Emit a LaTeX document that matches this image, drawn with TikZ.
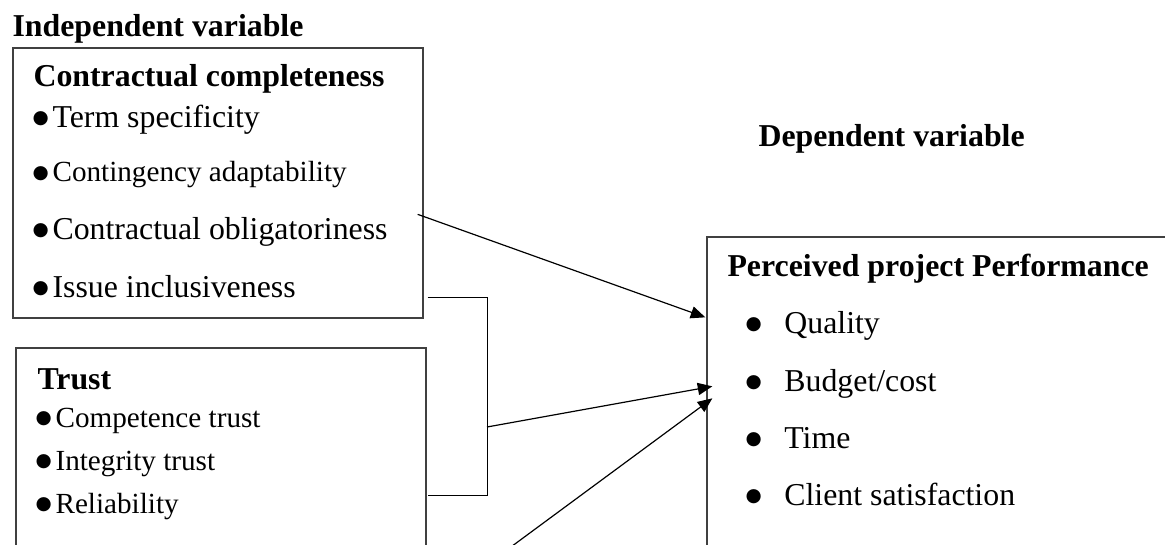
\documentclass[tikz,border=0pt]{standalone}
\usepackage{fontspec}
\setmainfont{Liberation Serif}
\newfontfamily\dotfont{DejaVu Sans}
\usetikzlibrary{calc,fit,arrows.meta}

% bullet of a list: #1 is the room it takes
\newcommand{\bul}[1]{\makebox[#1][l]{\makebox[7.7pt][c]{\dotfont\fontsize{7}{7}\selectfont\raisebox{1.5pt}{●}}}}

\tikzset{
  box/.style={draw=black!75, line width=0.5pt, inner sep=0pt},
  head/.style={anchor=base west, inner sep=0pt, font=\bfseries\fontsize{12}{14}\selectfont},
  item/.style={anchor=base west, inner sep=0pt},
  wire/.style={line width=0.45pt},
  link/.style={wire, -{Triangle[length=5.5pt,width=4.6pt]}},
}

\begin{document}
\begin{tikzpicture}[x=0.377pt, y=-0.377pt]
  % Fix the frame of the page
  \useasboundingbox (0,0) rectangle (1165,544);
  \clip (0,0) rectangle (1165,544);

  % Define the boxes
  \node[box, fit={(13,48) (423,318)}] (cc) {};
  \node[box, fit={(16,348) (426,700)}] (trust) {};
  \node[box, fit={(707,237) (1300,700)}] (perf) {};

  % Headings
  \node[head] (indep) at (12,37) {Independent variable};
  \node[head] (cc-title) at (33,87) {Contractual completeness};
  \node[head] (trust-title) at (37,389) {Trust};
  \node[head] (dep) at (758,147) {Dependent variable};
  \node[head] (perf-title) at (727,276) {Perceived project Performance};

  % Items of the contract box
  \foreach \y/\s/\t [count=\i] in {127/12/Term specificity, 182/11/Contingency adaptability,
      239/12/Contractual obligatoriness, 297/12/Issue inclusiveness} {
    \node[item, font=\fontsize{\s}{14}\selectfont] (cc-i\i) at (30,\y) {\bul{8.3pt}\t};
  }

  % Items of the trust box
  \foreach \y/\t [count=\i] in {427/Competence trust, 470/Integrity trust, 513/Reliability} {
    \node[item, font=\fontsize{11}{14}\selectfont] (tr-i\i) at (33,\y) {\bul{8.3pt}\t};
  }

  % Items of the performance box
  \foreach \y/\t [count=\i] in {333/Quality, 391/{Budget/cost}, 448/Time, 505/Client satisfaction} {
    \node[item, font=\fontsize{12}{14}\selectfont] (pf-i\i) at (743,\y) {\bul{15.4pt}\t};
  }

  % Define the end points of the connectors
  \coordinate (cc-out) at ($(cc.north east)+(-6,167)$);
  \coordinate (br-top) at ($(cc.south east)+(4,-21)$);
  \coordinate (br-bot) at ($(trust.north east)+(1,148)$);
  \coordinate (br-mid) at (487,427);
  \coordinate (low) at (439,600);
  \coordinate (perf-in1) at ($(perf.north west)+(-1,81)$);
  \coordinate (perf-in2) at ($(perf.north west)+(6,150)$);
  \coordinate (perf-in3) at ($(perf.north west)+(6,162)$);

  % Draw the bracket and the arrows
  \draw[wire] (br-top) -- ++(60,0) |- (br-bot);
  \draw[link] (cc-out) -- (perf-in1);
  \draw[link] (br-mid) -- (perf-in2);
  \draw[link] (low) -- (perf-in3);

\end{tikzpicture}
\end{document}
